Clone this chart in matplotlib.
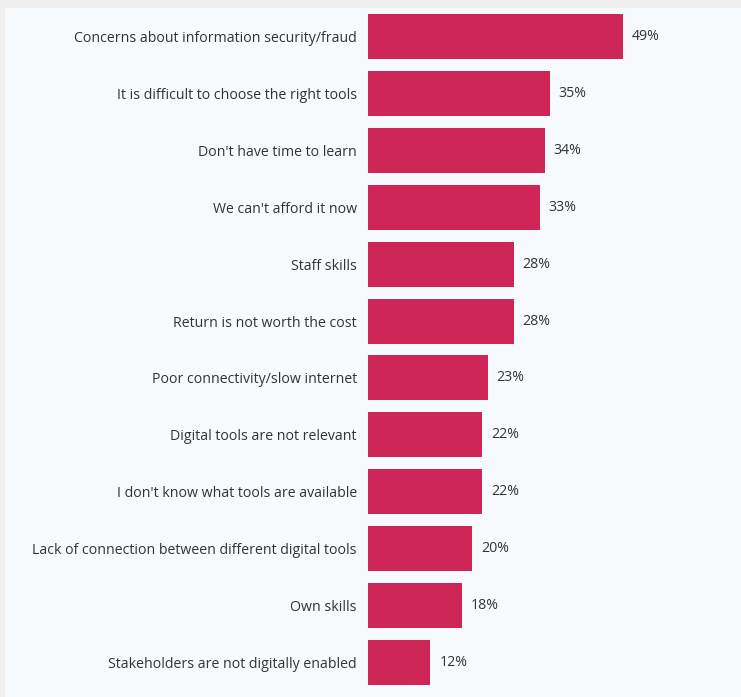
import matplotlib
matplotlib.use("Agg")
import matplotlib.pyplot as plt
from matplotlib.patches import Rectangle

categories = [
    "Concerns about information security/fraud",
    "It is difficult to choose the right tools",
    "Don't have time to learn",
    "We can't afford it now",
    "Staff skills",
    "Return is not worth the cost",
    "Poor connectivity/slow internet",
    "Digital tools are not relevant",
    "I don't know what tools are available",
    "Lack of connection between different digital tools",
    "Own skills",
    "Stakeholders are not digitally enabled",
]
values = [49, 35, 34, 33, 28, 28, 23, 22, 22, 20, 18, 12]

W, H = 741, 697
bar_color = "#CE2657"
text_color = "#333333"
panel_color = "#F7FAFD"

fig = plt.figure(figsize=(W / 100, H / 100), dpi=100, facecolor="#F0F0F0")
fig.patches.append(Rectangle((5 / W, 0), 1 - 5 / W, 1 - 8 / H,
                             transform=fig.transFigure, facecolor=panel_color,
                             edgecolor="none", zorder=-10))

ax_left, ax_width = 368, 364
ax_top, ax_height = 8, 683
ax = fig.add_axes([ax_left / W, 1 - (ax_top + ax_height) / H, ax_width / W, ax_height / H])
ax.set_facecolor("none")

y = list(range(len(categories)))
ax.barh(y, values, height=0.79, color=bar_color)
for yi, v in zip(y, values):
    ax.text(v + 1.7, yi, f"{v}%", va="center", ha="left",
            fontsize=10.2, color=text_color, family="Open Sans")

ax.set_xlim(0, 70)
ax.set_ylim(len(categories) - 0.5, -0.5)
ax.set_yticks(y)
ax.set_yticklabels(categories, fontsize=10.2, color=text_color, family="Open Sans")
ax.tick_params(axis="y", length=0, pad=8)
ax.set_xticks([])
for s in ax.spines.values():
    s.set_visible(False)

fig.savefig("out.png", dpi=100, facecolor=fig.get_facecolor())
